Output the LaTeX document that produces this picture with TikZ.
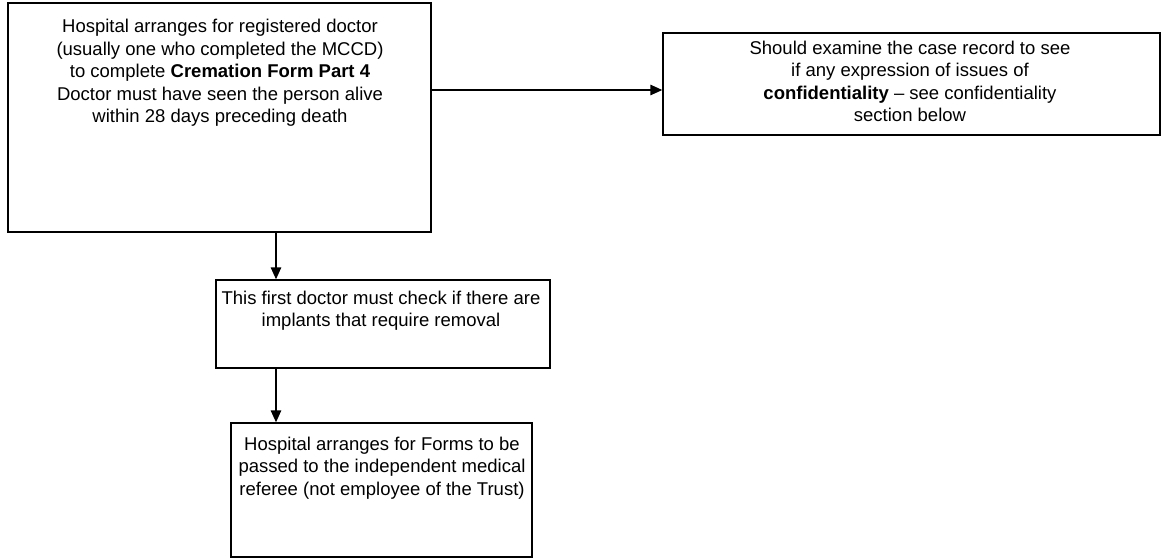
\documentclass[tikz,border=0pt]{standalone}
\usepackage{fontspec}
\setmainfont{Liberation Sans}
\usetikzlibrary{arrows.meta}
\begin{document}
\begin{tikzpicture}[x=1pt,y=-1pt,
  flowbox/.style={draw, line width=1.4pt, inner sep=0pt},
  txt/.style={font=\fontsize{18.5}{22.5}\selectfont, align=center, inner sep=0pt, anchor=north},
  arr/.style={line width=1.4pt, -{Triangle[length=12pt,width=10.5pt]}}]
\useasboundingbox (0,0) rectangle (1163,560);
% boxes
\node[flowbox, minimum width=423pt, minimum height=229pt] (b1) at (219.5,117.5) {};
\node[flowbox, minimum width=497pt, minimum height=102pt] (b2) at (911.5,84) {};
\node[flowbox, minimum width=334pt, minimum height=88pt] (b3) at (383,324) {};
\node[flowbox, minimum width=301pt, minimum height=134pt] (b4) at (381.5,490) {};
% texts
\node[txt] (t1) at (220,19) {Hospital arranges for registered doctor\\(usually one who completed the MCCD)\\to complete \textbf{Cremation Form Part 4}\\Doctor must have seen the person alive\\within 28 days preceding death};
\node[txt] (t2) at (910,40.5) {Should examine the case record to see\\if any expression of issues of\\\textbf{confidentiality} – see confidentiality\\section below};
\node[txt] (t3) at (381,290.5) {This first doctor must check if there are\\implants that require removal};
\node[txt] (t4) at (382,436.5) {Hospital arranges for Forms to be\\passed to the independent medical\\referee (not employee of the Trust)};
% connectors
\coordinate (ax) at (276,0);
\coordinate (ay) at (0,90);
\draw[arr] (b1.east |- ay) -- (b2.west |- ay);
\draw[arr] (b1.south -| ax) -- (b3.north -| ax);
\draw[arr] (b3.south -| ax) -- (b4.north -| ax);
\end{tikzpicture}
\end{document}
